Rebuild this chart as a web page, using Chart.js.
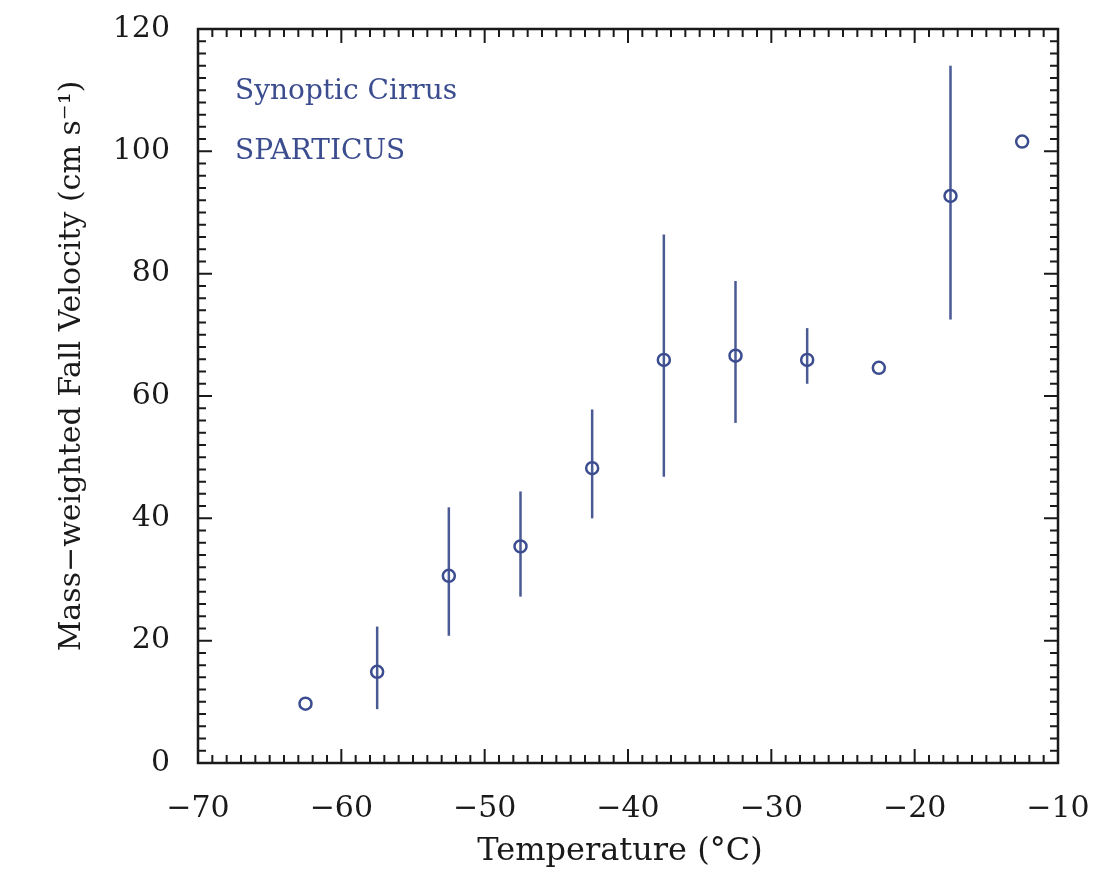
<!DOCTYPE html>
<html>
<head>
<meta charset="utf-8">
<title>Mass-weighted Fall Velocity vs Temperature</title>
<script src="https://cdn.jsdelivr.net/npm/chart.js@4/dist/chart.umd.min.js"></script>
<style>
  html, body { margin: 0; padding: 0; background: #ffffff; }
  #wrap { width: 1096px; height: 874px; position: relative; }
</style>
</head>
<body>
<div id="wrap"><canvas id="chart" width="1096" height="874"></canvas></div>
<script>
// Temperature bin centres (°C)
const temps = [-62.5, -57.5, -52.5, -47.5, -42.5, -37.5, -32.5, -27.5, -22.5, -17.5, -12.5];
// Mass-weighted fall velocity (cm/s)
const velocity = [9.7, 14.9, 30.6, 35.4, 48.2, 65.9, 66.6, 65.9, 64.6, 92.7, 101.6];
// Error bar bounds (null where no bar is drawn)
const errLow = [null, 8.8, 20.8, 27.2, 40.0, 46.8, 55.6, 62.0, null, 72.5, null];
const errHigh = [null, 22.3, 41.8, 44.4, 57.8, 86.4, 78.8, 71.1, null, 114.0, null];
// Axis tick labels
const xTicks = [-70, -60, -50, -40, -30, -20, -10];
const yTicks = [0, 20, 40, 60, 80, 100, 120];
// In-plot labels
const plotLabels = ['Synoptic Cirrus', 'SPARTICUS'];

const BLUE = '#3b4d8f';
const BAR = '#4a5a94';
const INK = '#1a1a1a';
const SERIF = '"DejaVu Serif", "Liberation Serif", serif';

const points = temps.map((t, i) => ({ x: t, y: velocity[i] }));

// Vertical error bars, drawn beneath the circles
const errorBars = {
  id: 'errorBars',
  beforeDatasetsDraw(chart) {
    const { ctx, scales: { x, y } } = chart;
    ctx.save();
    ctx.strokeStyle = BAR;
    ctx.lineWidth = 2.5;
    temps.forEach((t, i) => {
      if (errLow[i] == null || errHigh[i] == null) return;
      const px = x.getPixelForValue(t);
      ctx.beginPath();
      ctx.moveTo(px, y.getPixelForValue(errLow[i]));
      ctx.lineTo(px, y.getPixelForValue(errHigh[i]));
      ctx.stroke();
    });
    ctx.restore();
  }
};

// Frame with inward major/minor ticks on all four sides
const frameTicks = {
  id: 'frameTicks',
  afterDraw(chart) {
    const { ctx, chartArea: a, scales: { x, y } } = chart;
    const minorLen = 8, majorLen = 14;
    ctx.save();
    ctx.strokeStyle = INK;
    ctx.lineWidth = 2;
    ctx.beginPath();
    for (let v = -69; v <= -11; v++) {
      const px = x.getPixelForValue(v);
      const len = v % 10 === 0 ? majorLen : minorLen;
      ctx.moveTo(px, a.bottom); ctx.lineTo(px, a.bottom - len);
      ctx.moveTo(px, a.top); ctx.lineTo(px, a.top + len);
    }
    for (let v = 2; v <= 118; v += 2) {
      const py = y.getPixelForValue(v);
      const len = v % 20 === 0 ? majorLen : minorLen;
      ctx.moveTo(a.left, py); ctx.lineTo(a.left + len, py);
      ctx.moveTo(a.right, py); ctx.lineTo(a.right - len, py);
    }
    ctx.stroke();
    ctx.lineWidth = 2.5;
    ctx.strokeRect(a.left, a.top, a.right - a.left, a.bottom - a.top);
    ctx.restore();
  }
};

// Text labels in the upper-left of the plot
const plotText = {
  id: 'plotText',
  afterDraw(chart) {
    const { ctx, chartArea: a } = chart;
    ctx.save();
    ctx.fillStyle = BLUE;
    ctx.font = '28px ' + SERIF;
    ctx.textBaseline = 'middle';
    ctx.textAlign = 'left';
    plotLabels.forEach((s, i) => {
      ctx.fillText(s, a.left + 37, a.top + 63 + i * 60);
    });
    ctx.restore();
  }
};

const fmtMinus = v => String(v).replace('-', '\u2212');

new Chart(document.getElementById('chart'), {
  type: 'scatter',
  data: {
    datasets: [{
      data: points,
      showLine: false,
      pointStyle: 'circle',
      pointRadius: 6,
      pointHoverRadius: 6,
      borderWidth: 2.5,
      borderColor: BLUE,
      backgroundColor: 'rgba(0,0,0,0)'
    }]
  },
  options: {
    responsive: false,
    animation: false,
    events: [],
    layout: { padding: { top: 29, right: 38, left: 0, bottom: 0 } },
    plugins: { legend: { display: false }, tooltip: { enabled: false } },
    scales: {
      x: {
        type: 'linear',
        min: -70, max: -10,
        afterBuildTicks: s => { s.ticks = xTicks.map(v => ({ value: v })); },
        afterFit: s => { s.height = 111; },
        grid: { display: false },
        border: { display: false },
        ticks: {
          color: INK,
          font: { family: SERIF, size: 30, lineHeight: 2.27 },
          padding: 4,
          maxRotation: 0,
          callback: fmtMinus
        },
        title: {
          display: true,
          text: 'Temperature (°C)\u2002',
          color: INK,
          font: { family: SERIF, size: 32 },
          padding: { top: 0, bottom: 3 }
        }
      },
      y: {
        type: 'linear',
        min: 0, max: 120,
        afterBuildTicks: s => { s.ticks = yTicks.map(v => ({ value: v })); },
        afterFit: s => { s.width = 198; },
        grid: { display: false },
        border: { display: false },
        ticks: {
          color: INK,
          font: { family: SERIF, size: 30, lineHeight: 0.5 },
          padding: 20,
          callback: fmtMinus
        },
        title: {
          display: true,
          text: '\u2003\u2003Mass\u2212weighted Fall Velocity (cm s\u207B\u00B9)',
          color: INK,
          font: { family: SERIF, size: 30 },
          padding: { top: 54, bottom: 0 }
        }
      }
    }
  },
  plugins: [errorBars, frameTicks, plotText]
});
</script>
</body>
</html>
